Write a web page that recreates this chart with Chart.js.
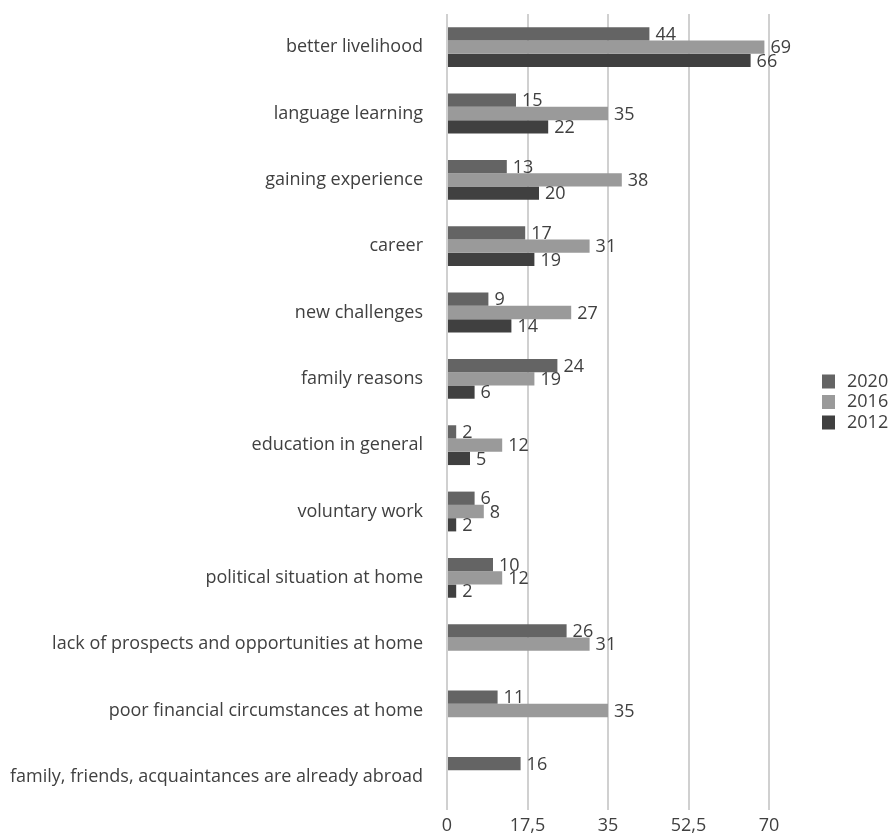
<!DOCTYPE html>
<html><head><meta charset="utf-8">
<script src="https://cdn.jsdelivr.net/npm/chart.js@4"></script>
<style>html,body{margin:0;padding:0;background:#fff}#wrap{width:891px;height:836px}</style>
</head><body><div id="wrap"><canvas id="c" width="891" height="836"></canvas></div>
<script>
const categories = ["better livelihood","language learning","gaining experience","career","new challenges","family reasons","education in general","voluntary work","political situation at home","lack of prospects and opportunities at home","poor financial circumstances at home","family, friends, acquaintances are already abroad"];
const seriesNames = ["2020","2016","2012"];
const values2020 = [44,15,13,17,9,24,2,6,10,26,11,16];
const values2016 = [69,35,38,31,27,19,12,8,12,31,35,null];
const values2012 = [66,22,20,19,14,6,5,2,2,null,null,null];
const xTicks = [0,17.5,35,52.5,70];
const colors = ["#646464","#9a9a9a","#404040"];

const FONT = "'Open Sans', sans-serif";
const TEXT = "#404040";

const labelPlugin = {
  id:'valueLabels',
  afterDatasetsDraw(chart){
    const ctx = chart.ctx;
    ctx.save();
    ctx.font = "18px " + FONT;
    ctx.fillStyle = TEXT;
    ctx.textAlign = "left";
    ctx.textBaseline = "middle";
    chart.data.datasets.forEach((ds,di)=>{
      const meta = chart.getDatasetMeta(di);
      meta.data.forEach((bar,i)=>{
        const v = ds.data[i];
        if (v===null || v===undefined) return;
        ctx.fillText(String(v), bar.x + 6, bar.y + 1);
      });
    });
    ctx.restore();
  }
};

const legendPlugin = {
  id:'sideLegend',
  afterDraw(chart){
    const ctx = chart.ctx;
    const ca = chart.chartArea;
    const n = chart.data.datasets.length;
    const rowH = 20.5;
    const midY = (ca.top + ca.bottom)/2 - 10;
    const x0 = ca.right + 53;
    ctx.save();
    ctx.font = "18px " + FONT;
    ctx.textBaseline = "middle";
    ctx.textAlign = "left";
    chart.data.datasets.forEach((ds,i)=>{
      const cy = midY + (i - (n-1)/2)*rowH;
      ctx.fillStyle = ds.backgroundColor;
      ctx.fillRect(x0, cy-7, 13, 14);
      ctx.fillStyle = TEXT;
      ctx.fillText(ds.label, x0 + 25, cy);
    });
    ctx.restore();
  }
};

new Chart(document.getElementById('c'), {
  type:'bar',
  data:{
    labels: categories,
    datasets:[
      {label:seriesNames[0], data:values2020, backgroundColor:colors[0]},
      {label:seriesNames[1], data:values2016, backgroundColor:colors[1]},
      {label:seriesNames[2], data:values2012, backgroundColor:colors[2]}
    ]
  },
  options:{
    indexAxis:'y',
    responsive:false,
    animation:false,
    devicePixelRatio:1,
    categoryPercentage:0.6,
    barPercentage:1.0,
    layout:{padding:{top:14,left:0,right:122,bottom:0}},
    plugins:{
      legend:{display:false},
      tooltip:{enabled:false}
    },
    scales:{
      x:{
        min:0,max:70,
        afterBuildTicks(axis){ axis.ticks = xTicks.map(v=>({value:v})); },
        afterFit(axis){ axis.height = 26; axis.paddingLeft = 0; axis.paddingRight = 0; },
        ticks:{color:TEXT, font:{family:FONT,size:18}, padding:5,
          callback:(v)=>String(v).replace('.',',')},
        grid:{color:'#d0d0d0', lineWidth:2, drawTicks:false},
        border:{display:false}
      },
      y:{
        afterFit(axis){ axis.width = 447; axis.paddingTop = 0; axis.paddingBottom = 0; },
        ticks:{color:TEXT, font:{family:FONT,size:18}, padding:24},
        grid:{display:false, drawTicks:false},
        border:{display:false}
      }
    }
  },
  plugins:[labelPlugin, legendPlugin]
});
</script></body></html>
